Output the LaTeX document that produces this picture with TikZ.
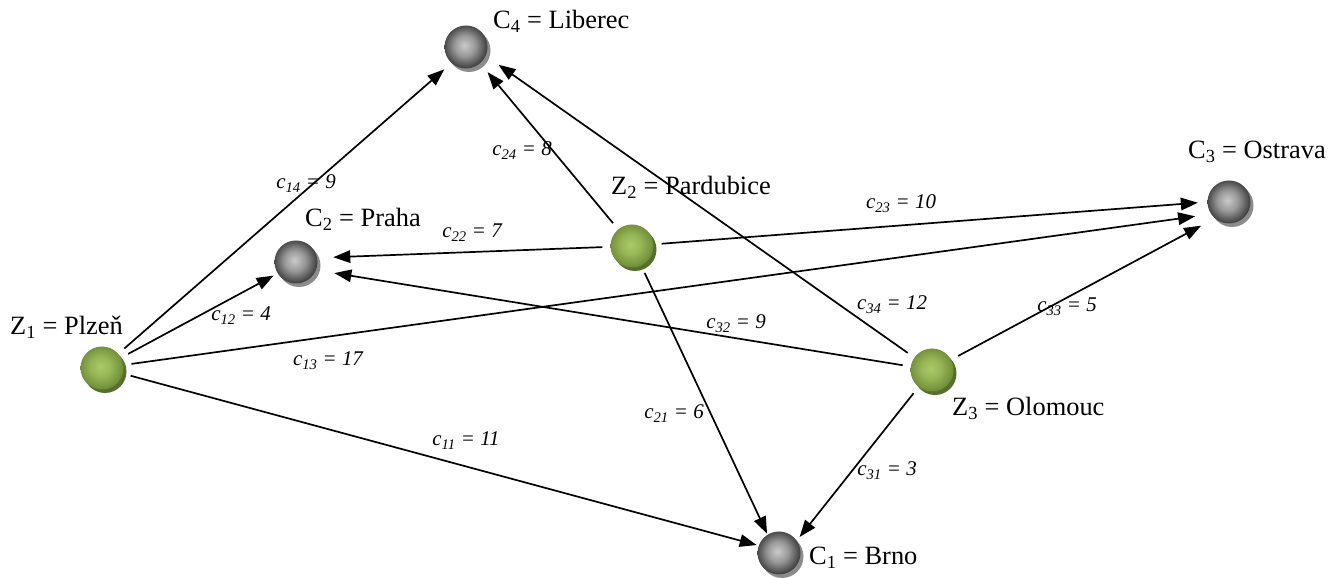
\documentclass[tikz,border=0pt]{standalone}
\usepackage{fontspec}
\setmainfont{Liberation Serif}
\newfontfamily\labelfont{Liberation Serif}
\usetikzlibrary{arrows.meta,shadows}

% sphere colours
\definecolor{gIn}{HTML}{AACA6A}
\definecolor{gMid}{HTML}{95B556}
\definecolor{gOut}{HTML}{718F3A}
\definecolor{gShd}{HTML}{55702C}
\definecolor{kIn}{HTML}{CACACA}
\definecolor{kMid}{HTML}{999999}
\definecolor{kOut}{HTML}{434343}
\definecolor{kShd}{HTML}{8C8C8C}

\pgfdeclareradialshading{greensphere}{\pgfpoint{-2bp}{2bp}}{%
  color(0bp)=(gIn); color(12bp)=(gMid); color(25bp)=(gOut); color(50bp)=(gOut)}
\pgfdeclareradialshading{graysphere}{\pgfpoint{-2bp}{2bp}}{%
  color(0bp)=(kIn); color(12bp)=(kMid); color(25bp)=(kOut); color(50bp)=(kOut)}

\tikzset{
  sphere/.style={circle, minimum size=43bp, inner sep=0pt, draw=none, shade},
  source/.style={sphere, shading=greensphere,
    general shadow={fill=gShd, shadow xshift=3bp, shadow yshift=-3.5bp}},
  sink/.style={sphere, shading=graysphere,
    general shadow={fill=kShd, shadow xshift=3bp, shadow yshift=-3.5bp}},
  place/.style={anchor=base west, inner sep=0pt,
    font=\labelfont\fontsize{26.5}{30}\selectfont},
  cost/.style={anchor=base, inner sep=0pt,
    font=\labelfont\fontsize{21}{24}\selectfont\itshape},
  route/.style={line width=1.7bp, draw=black, shorten <=8bp,
    -{Triangle[length=17bp, width=12.5bp]}}
}

\begin{document}
\begin{tikzpicture}[x=1bp, y=1bp]
\useasboundingbox (0,0) rectangle (1344,578);

% suppliers and customers
\node[source] (z1) at (102,210) {};
\node[source] (z2) at (632,332) {};
\node[source] (z3) at (932,208) {};
\node[sink] (c1) at (779,25) {};
\node[sink] (c2) at (296,316) {};
\node[sink] (c3) at (1229,376) {};
\node[sink] (c4) at (466,531) {};

% place names
\node[place] (n1) at (10,243) {Z\textsubscript{1} = Plzeň};
\node[place] (n2) at (611,383) {Z\textsubscript{2} = Pardubice};
\node[place] (n3) at (952,162) {Z\textsubscript{3} = Olomouc};
\node[place] (m1) at (809,13) {C\textsubscript{1} = Brno};
\node[place] (m2) at (305,351) {C\textsubscript{2} = Praha};
\node[place] (m3) at (1188,419) {C\textsubscript{3} = Ostrava};
\node[place] (m4) at (493,549) {C\textsubscript{4} = Liberec};

% routes
\draw[route, shorten >=9.5bp]  (z1) -- (c4.228);
\draw[route, shorten >=4.5bp]  (z1) -- (c2.212);
\draw[route, shorten >=16bp]   (z1) -- (c3.214);
\draw[route, shorten >=2bp]    (z1) -- (c1.160);
\draw[route, shorten >=11.5bp] (z2) -- (c4.-49);
\draw[route, shorten >=16bp]   (z2) -- (c2.11);
\draw[route, shorten >=9.5bp]  (z2) -- (c3.180);
\draw[route, shorten >=1bp]    (z2) -- (c1.122);
\draw[route, shorten >=15.5bp] (z3) -- (c4.-24);
\draw[route, shorten >=18.5bp] (z3) -- (c2.-22);
\draw[route, shorten >=15.5bp] (z3) -- (c3.229);
\draw[route, shorten >=4.5bp]  (z3) -- (c1.35);

% unit costs
\node[cost] (k14) at (306,389) {c\textsubscript{14} = 9};
\node[cost] (k24) at (522,422) {c\textsubscript{24} = 8};
\node[cost] (k23) at (901,369) {c\textsubscript{23} = 10};
\node[cost] (k22) at (472,340) {c\textsubscript{22} = 7};
\node[cost] (k12) at (241,257) {c\textsubscript{12} = 4};
\node[cost] (k13) at (328,212) {c\textsubscript{13} = 17};
\node[cost] (k32) at (736,249) {c\textsubscript{32} = 9};
\node[cost] (k34) at (892,268) {c\textsubscript{34} = 12};
\node[cost] (k33) at (1067,266) {c\textsubscript{33} = 5};
\node[cost] (k21) at (674,159) {c\textsubscript{21} = 6};
\node[cost] (k11) at (466,132) {c\textsubscript{11} = 11};
\node[cost] (k31) at (887,102) {c\textsubscript{31} = 3};
\end{tikzpicture}
\end{document}
